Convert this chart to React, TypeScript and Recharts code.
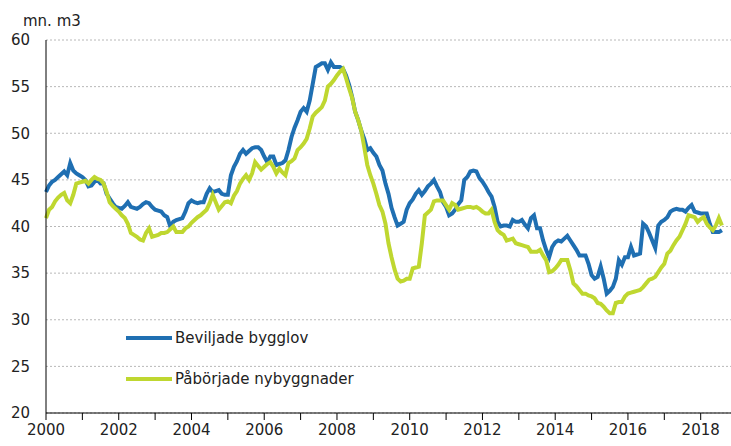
import React from "react";
import { LineChart, Line, XAxis, YAxis, CartesianGrid, Legend } from "recharts";

// Monthly values, Jan 2000 .. Aug 2018 (mn. m3, moving annual sum)
const beviljade = [
  43.7, 44.4, 44.8, 45.0, 45.3, 45.6, 45.9, 45.5, 46.8, 46.0, 45.7, 45.5,
  45.3, 45.0, 44.3, 44.4, 44.8, 45.0, 44.6, 44.6, 43.5, 43.0, 42.5, 42.1,
  42.0, 41.9, 42.2, 42.6, 42.1, 42.0, 41.9, 42.1, 42.4, 42.6, 42.5, 42.1,
  41.8, 41.7, 41.6, 41.2, 41.0, 40.0, 40.5, 40.7, 40.8, 40.9, 41.6, 42.5,
  42.8, 42.6, 42.5, 42.6, 42.6, 43.5, 44.1, 43.7, 43.8, 43.9, 43.5, 43.4,
  43.4, 45.5, 46.4, 47.0, 47.8, 48.2, 47.8, 48.1, 48.4, 48.5, 48.5, 48.2,
  47.5, 46.9, 47.5, 47.5, 46.6, 46.7, 46.8, 47.1, 48.2, 49.6, 50.6, 51.4,
  52.3, 52.7, 52.3, 53.5, 55.3, 57.1, 57.3, 57.5, 57.5, 56.8, 57.6, 57.1,
  57.1, 57.1, 56.9, 56.2, 55.2, 53.9, 52.3, 51.4, 50.3, 49.4, 48.2, 48.4,
  47.9, 47.5, 46.6, 46.0, 44.6, 43.5, 42.0, 41.0, 40.1, 40.3, 40.5, 41.8,
  42.5, 42.9, 43.5, 43.9, 43.4, 43.8, 44.3, 44.6, 45.0, 44.3, 43.7, 42.6,
  42.1, 41.2, 41.4, 41.8, 42.4, 42.8, 45.0, 45.3, 45.9, 46.0, 45.9, 45.2,
  44.8, 44.3, 43.7, 43.2, 42.1, 40.5, 40.0, 40.1, 40.1, 40.0, 40.7, 40.5,
  40.5, 40.7, 40.2, 39.8, 40.9, 41.2, 39.8, 39.8, 38.5, 37.5, 36.7, 37.8,
  38.3, 38.5, 38.4, 38.7, 39.0, 38.5, 38.0, 37.5, 36.9, 36.9, 36.9, 36.0,
  34.8, 34.4, 34.6, 35.7, 34.4, 32.8, 33.1, 33.5, 34.4, 36.4, 35.9, 36.7,
  36.7, 37.8, 36.9, 37.0, 37.1, 40.3, 40.0, 39.3, 38.5, 37.7, 40.1, 40.5,
  40.7, 41.0, 41.6, 41.8, 41.9, 41.8, 41.8, 41.6, 42.0, 42.3, 41.6, 41.5,
  41.4, 41.4, 41.4, 40.3, 39.4, 39.4, 39.4, 39.6,
];

const paborjade = [
  40.9, 41.8, 42.1, 42.7, 43.1, 43.4, 43.6, 42.8, 42.5, 43.4, 44.6, 44.7,
  44.8, 44.9, 44.6, 45.0, 45.3, 45.1, 45.0, 44.6, 43.7, 42.6, 42.2, 41.9,
  41.6, 41.2, 40.9, 40.3, 39.3, 39.1, 38.9, 38.6, 38.5, 39.3, 39.8, 38.9,
  39.0, 39.1, 39.3, 39.3, 39.4, 39.7, 40.0, 39.4, 39.4, 39.4, 39.8, 40.0,
  40.4, 40.7, 41.0, 41.2, 41.5, 41.8, 42.5, 43.4, 42.6, 41.8, 42.2, 42.6,
  42.7, 42.5, 43.3, 43.8, 44.6, 45.1, 45.5, 45.0, 45.7, 46.9, 46.5, 46.1,
  46.4, 46.7, 46.9, 46.4, 45.7, 46.2, 45.8, 45.5, 46.8, 47.0, 47.3, 48.2,
  48.5, 48.9, 49.4, 50.5, 51.8, 52.2, 52.5, 52.8, 53.5, 55.0, 55.3, 55.7,
  56.2, 56.6, 56.9, 55.9, 54.8, 53.8, 52.3, 51.4, 50.3, 48.5, 46.6, 45.5,
  44.6, 43.5, 42.3, 41.6, 40.3, 38.2, 36.7, 35.4, 34.4, 34.1, 34.2, 34.4,
  34.4, 35.5, 35.6, 35.7, 38.2, 41.2, 41.5, 41.8, 42.7, 42.8, 42.8, 42.8,
  42.3, 41.8, 42.5, 42.3, 41.8, 41.9, 42.0, 42.1, 42.1, 42.0, 42.1, 41.9,
  41.6, 41.4, 41.4, 41.8, 40.5, 39.6, 39.3, 39.1, 38.5, 38.6, 38.7, 38.2,
  38.1, 38.0, 37.9, 37.8, 37.3, 37.3, 37.3, 37.5, 36.9, 36.4, 35.1, 35.2,
  35.5, 35.9, 36.4, 36.4, 36.4, 35.3, 33.9, 33.6, 33.2, 32.8, 32.8, 32.6,
  32.5, 32.3, 31.8, 31.7, 31.4, 31.0, 30.7, 30.7, 31.8, 31.9, 31.9, 32.5,
  32.8, 32.9, 33.0, 33.1, 33.2, 33.5, 33.9, 34.3, 34.4, 34.6, 35.1, 35.6,
  36.0, 37.1, 37.4, 38.0, 38.5, 38.9, 39.6, 40.3, 41.2, 41.1, 41.0, 40.5,
  40.8, 41.0, 40.3, 39.9, 39.6, 40.1, 40.9, 40.1,
];

const years = [
  2000, 2001, 2002, 2003, 2004, 2005, 2006, 2007, 2008, 2009,
  2010, 2011, 2012, 2013, 2014, 2015, 2016, 2017, 2018,
];
const yTicks = [20, 25, 30, 35, 40, 45, 50, 55, 60];

const BLUE = "#1f6fb2";
const GREEN = "#bfd730";
const FONT = "'DejaVu Sans', Verdana, sans-serif";

const data = beviljade.map((v, i) => ({ m: i, beviljade: v, paborjade: paborjade[i] }));
const xTicks = years.map((y) => (y - 2000) * 12);

const renderLegend = (props: any) => (
  <div style={{ fontFamily: FONT, fontSize: 15, color: "#222" }}>
    {props.payload.map((p: any) => (
      <div key={p.value} style={{ display: "flex", alignItems: "center", height: 41 }}>
        <span style={{ display: "inline-block", width: 46, height: 4, background: p.color, marginRight: 3 }} />
        {p.value}
      </div>
    ))}
  </div>
);

export default function App() {
  return (
    <div style={{ position: "absolute", left: 0, top: 0, width: 731, height: 446, background: "#fff" }}>
      <div style={{ position: "absolute", left: 23, top: 12, fontFamily: FONT, fontSize: 15, color: "#222" }}>
        mn. m3
      </div>
      <LineChart width={731} height={446} data={data} margin={{ top: 40, right: 0, left: 0, bottom: 0 }}>
        <CartesianGrid vertical={false} stroke="#b8b8b8" strokeDasharray="2 2" />
        <XAxis
          dataKey="m"
          type="number"
          domain={[0, 226]}
          ticks={xTicks}
          interval={0}
          tickFormatter={(v: number) => {
            const y = 2000 + v / 12;
            return y % 2 === 0 ? String(y) : "";
          }}
          height={33}
          tickSize={7}
          tickMargin={4}
          stroke="#000"
          tick={{ fill: "#222", fontSize: 15, fontFamily: FONT }}
        />
        <YAxis
          domain={[20, 60]}
          ticks={yTicks}
          interval={0}
          width={46}
          tickLine={false}
          tickSize={0}
          tickMargin={16}
          stroke="#000"
          tick={{ fill: "#222", fontSize: 15, fontFamily: FONT }}
        />
        <Legend
          layout="horizontal"
          verticalAlign="middle"
          align="center"
          content={renderLegend}
          wrapperStyle={{ left: 126, top: 317, width: 260 }}
        />
        <Line
          name="Beviljade bygglov"
          dataKey="beviljade"
          stroke={BLUE}
          strokeWidth={4}
          dot={false}
          isAnimationActive={false}
        />
        <Line
          name="Påbörjade nybyggnader"
          dataKey="paborjade"
          stroke={GREEN}
          strokeWidth={4}
          dot={false}
          isAnimationActive={false}
        />
      </LineChart>
    </div>
  );
}
